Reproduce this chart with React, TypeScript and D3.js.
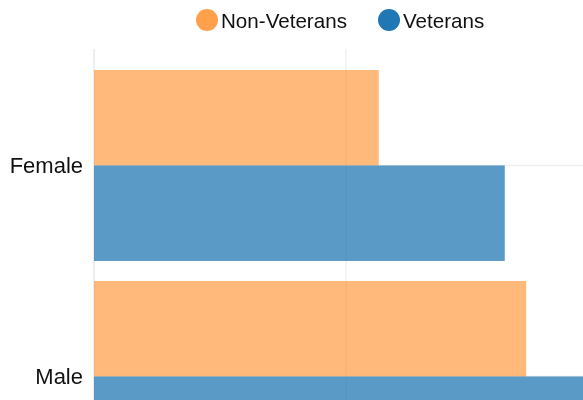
import React from "react";
import * as d3 from "d3";

const categories = ["Female", "Male"];
const seriesNames = ["Non-Veterans", "Veterans"];
const nonVeterans = [22600, 34300];
const veterans = [32600, 45000];
const xTicks = [0, 20000, 40000];

const W = 583;
const H = 400;

export default function App() {
  const left = 94;
  const x = d3.scaleLinear().domain([0, 20000]).range([left, 346]);
  const y = d3
    .scaleBand<string>()
    .domain(categories)
    .range([59.45, 482.5])
    .paddingInner(0.095)
    .paddingOuter(0.05);
  const sub = d3
    .scaleBand<string>()
    .domain(seriesNames)
    .range([0, y.bandwidth()])
    .padding(0);
  const barColor = d3.scaleOrdinal<string, string>().domain(seriesNames).range(["#ff7f0e", "#1f77b4"]);
  const legendColor = d3.scaleOrdinal<string, string>().domain(seriesNames).range(["#ffa04c", "#1f77b4"]);
  const barOpacity = [0.55, 0.74];
  const values = [nonVeterans, veterans];
  const legendX = [207, 389];

  return (
    <svg
      width={W}
      height={H}
      style={{ position: "fixed", left: 0, top: 0, display: "block", fontFamily: "Liberation Sans, Arial, sans-serif" }}
    >
      {/* grid */}
      {xTicks.map((t) => (
        <line key={t} x1={x(t)} x2={x(t)} y1={49} y2={H + 50} stroke="#e8e8e8" strokeWidth={t === 0 ? 1.5 : 1} />
      ))}
      {categories.map((c) => (
        <line
          key={c}
          x1={left}
          x2={W}
          y1={(y(c) as number) + sub.bandwidth()}
          y2={(y(c) as number) + sub.bandwidth()}
          stroke="#eeeeee"
          strokeWidth={1.5}
        />
      ))}
      {/* bars */}
      {categories.map((c, ci) =>
        seriesNames.map((s, si) => (
          <rect
            key={c + s}
            x={x(0)}
            y={(y(c) as number) + (sub(s) as number)}
            width={x(values[si][ci]) - x(0)}
            height={sub.bandwidth()}
            fill={barColor(s)}
            fillOpacity={barOpacity[si]}
          />
        ))
      )}
      {/* y labels */}
      {categories.map((c) => (
        <text
          key={c}
          x={83}
          y={(y(c) as number) + sub.bandwidth()}
          textAnchor="end"
          dominantBaseline="central"
          fontSize={22}
          fill="#111"
        >
          {c}
        </text>
      ))}
      {/* legend */}
      {seriesNames.map((s, i) => (
        <g key={s}>
          <circle cx={legendX[i]} cy={20} r={11} fill={legendColor(s)} />
          <text x={legendX[i] + 14} y={20} dominantBaseline="central" fontSize={20.6} fill="#111">
            {s}
          </text>
        </g>
      ))}
    </svg>
  );
}
